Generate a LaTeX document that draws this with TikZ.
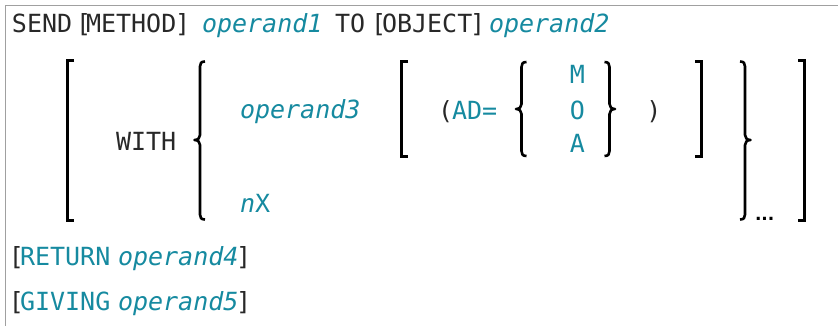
\documentclass[tikz,border=0pt]{standalone}
\usepackage{fontspec}
\setmonofont{DejaVu Sans Mono}
\newfontfamily\dotsfont{DejaVu Sans}
\definecolor{kw}{RGB}{22,138,160}
\definecolor{ink}{RGB}{40,40,40}
\definecolor{framec}{RGB}{160,160,160}
\newcommand\drawLbrace[4]{% x, ytop, ymid, ybot
 \draw[brc] ({#1+5},#2) .. controls ({#1+1},#2) and (#1,{#2+2}) .. (#1,{#2+5}) -- (#1,{#3-5}) .. controls (#1,{#3-2}) and ({#1-2},#3) .. ({#1-5.5},#3) .. controls ({#1-2},#3) and (#1,{#3+2}) .. (#1,{#3+5}) -- (#1,{#4-5}) .. controls (#1,{#4-2}) and ({#1+1},#4) .. ({#1+5},#4);}
\newcommand\drawRbrace[4]{% x, ytop, ymid, ybot
 \draw[brc] ({#1-5},#2) .. controls ({#1-1},#2) and (#1,{#2+2}) .. (#1,{#2+5}) -- (#1,{#3-5}) .. controls (#1,{#3-2}) and ({#1+2},#3) .. ({#1+5.5},#3) .. controls ({#1+2},#3) and (#1,{#3+2}) .. (#1,{#3+5}) -- (#1,{#4-5}) .. controls (#1,{#4-2}) and ({#1-1},#4) .. ({#1-5},#4);}
\begin{document}
\begin{tikzpicture}[x=1pt,y=-1pt,
  txt/.style={anchor=base west,inner sep=0pt,outer sep=0pt,text=ink,font=\ttfamily\fontsize{25}{30}\selectfont},
  kwd/.style={txt,text=kw},
  var/.style={txt,text=kw,font=\ttfamily\itshape\fontsize{25}{30}\selectfont},
  brk/.style={line width=3pt,line cap=butt,line join=miter,draw=black},
  brc/.style={line width=2.6pt,line cap=butt,line join=round,draw=black},
  framel/.style={draw=framec,line width=1.5pt}]
\useasboundingbox (0,0) rectangle (838,326);
% frame
\draw[framel] (5.5,326) -- (5.5,5.5) -- (838,5.5);
% line 1
\node[txt] (send) at (12,33) {SEND};
\node[txt] (lbm) at (76,33) {[};
\node[txt] (method) at (86,33) {METHOD};
\node[txt] (rbm) at (175,33) {]};
\node[var] (op1) at (202,33) {operand1};
\node[txt] (to) at (335,33) {TO};
\node[txt] (lbo) at (371,33) {[};
\node[txt] (object) at (382,33) {OBJECT};
\node[txt] (rbo) at (470,33) {]};
\node[var] (op2) at (489,33) {operand2};
% WITH block
\node[txt] (with) at (116,150) {WITH};
\node[var] (op3) at (240,119) {operand3};
\node[kwd] (nx) at (240,212) {{\itshape n}X};
\node[txt] (lpar) at (438,120) {(};
\node[kwd] (ad) at (452,120) {AD=};
\node[kwd,anchor=base] (m) at (577.5,84) {M};
\node[kwd,anchor=base] (o) at (577.5,120) {O};
\node[kwd,anchor=base] (a) at (577.5,153) {A};
\node[txt,anchor=base] (rpar) at (654,120) {)};
\node[txt,text=black,font=\dotsfont\bfseries\fontsize{17}{20}\selectfont] (dots) at (755,220) {...};
% brackets
\draw[brk] (74,61) -- (67.5,61) -- (67.5,220) -- (74,220);
\draw[brk] (408,61.5) -- (401.5,61.5) -- (401.5,156.5) -- (408,156.5);
\draw[brk] (695,61.5) -- (701.5,61.5) -- (701.5,156.5) -- (695,156.5);
\draw[brk] (798,61) -- (804.5,61) -- (804.5,220) -- (798,220);
% braces
\drawLbrace{200}{61.5}{140}{219.5}
\drawLbrace{521.5}{62}{109}{156}
\drawRbrace{609.5}{62}{109}{156}
\drawRbrace{745}{61.5}{140}{219.5}
% RETURN / GIVING
\node[txt] (lb4) at (9,265) {[};
\node[kwd] (ret) at (20,265) {RETURN};
\node[var] (op4) at (118,265) {operand4};
\node[txt] (rb4) at (236,265) {]};
\node[txt] (lb5) at (9,310) {[};
\node[kwd] (giv) at (20,310) {GIVING};
\node[var] (op5) at (118,310) {operand5};
\node[txt] (rb5) at (236,310) {]};
\end{tikzpicture}
\end{document}
